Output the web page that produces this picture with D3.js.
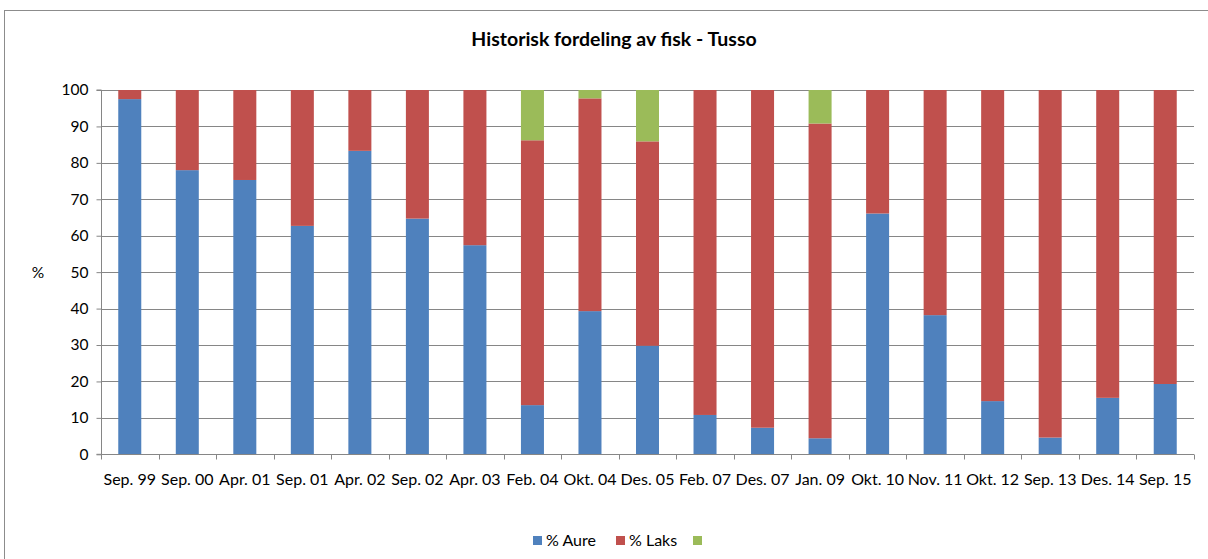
<!DOCTYPE html>
<html><head><meta charset="utf-8">
<script src="https://cdn.jsdelivr.net/npm/d3@7"></script>
<style>body{margin:0;background:#fff}svg{display:block;font-family:Lato,"Liberation Sans",sans-serif}</style>
</head><body>
<svg id="c" width="1208" height="559"></svg>
<script>
const categories = ["Sep. 99","Sep. 00","Apr. 01","Sep. 01","Apr. 02","Sep. 02","Apr. 03","Feb. 04","Okt. 04","Des. 05","Feb. 07","Des. 07","Jan. 09","Okt. 10","Nov. 11","Okt. 12","Sep. 13","Des. 14","Sep. 15"];
const aure = [97.5,78.0,75.3,62.7,83.3,64.7,57.4,13.5,39.3,29.8,10.8,7.3,4.4,66.1,38.2,14.6,4.6,15.5,19.3];
const laks = [2.5,22.0,24.7,37.3,16.7,35.3,42.6,72.7,58.4,56.1,89.2,92.7,86.4,33.9,61.8,85.4,95.4,84.5,80.7];
const other = [0,0,0,0,0,0,0,13.8,2.3,14.1,0,0,9.2,0,0,0,0,0,0];
const seriesNames = ["% Aure","% Laks",""];
const colors = ["#4F81BD","#C0504D","#9BBB59"];
const yTicks = [0,10,20,30,40,50,60,70,80,90,100];

const svg = d3.select("#c");
svg.append("rect").attr("x",4.5).attr("y",10.5).attr("width",1220).attr("height",600)
  .attr("fill","#fff").attr("stroke","#8c8c8c").attr("stroke-width",1);

const L=101, R=1194, T=90, B=454.3;
const x = d3.scaleBand().domain(categories).range([L,R]).paddingInner(0.6).paddingOuter(0.3);
const y = d3.scaleLinear().domain([0,100]).range([B,T]);

// gridlines
svg.append("g").selectAll("line").data(yTicks.filter(d=>d>0)).join("line")
  .attr("x1",L).attr("x2",R).attr("y1",d=>Math.round(y(d))+0.5).attr("y2",d=>Math.round(y(d))+0.5)
  .attr("stroke","#868686").attr("stroke-width",1);

const data = categories.map((c,i)=>({cat:c, s0:aure[i], s1:laks[i], s2:other[i]}));
const stack = d3.stack().keys(["s0","s1","s2"])(data);
svg.append("g").selectAll("g").data(stack).join("g").attr("fill",(d,i)=>colors[i])
  .selectAll("rect").data(d=>d).join("rect")
  .attr("x",d=>x(d.data.cat)).attr("width",x.bandwidth())
  .attr("y",d=>y(d[1])).attr("height",d=>Math.max(0,y(d[0])-y(d[1])));

// y axis
const ya = svg.append("g").attr("transform",`translate(${L+0.5},0)`)
  .call(d3.axisLeft(y).tickValues(yTicks).tickSize(5).tickPadding(8));
ya.selectAll("line,path").attr("stroke","#868686");
ya.select(".domain").attr("d",`M-5,${y(100)}H0V${B}H-5`);
ya.selectAll("text").attr("font-size",15.5).attr("fill","#000").style("font-family","Lato,sans-serif");

// x axis
const xa = svg.append("g").attr("transform",`translate(0,${Math.round(B)+0.5})`);
xa.append("line").attr("x1",L).attr("x2",R).attr("stroke","#868686");
const bounds = d3.range(categories.length+1).map(i=>L+i*x.step());
xa.selectAll("line.t").data(bounds).join("line").attr("class","t")
  .attr("x1",d=>Math.round(d)+0.5).attr("x2",d=>Math.round(d)+0.5).attr("y1",0).attr("y2",5).attr("stroke","#868686");
xa.selectAll("text").data(categories).join("text")
  .attr("x",d=>x(d)+x.bandwidth()/2).attr("y",30.5).attr("text-anchor","middle")
  .attr("font-size",16).attr("fill","#000").text(d=>d);

svg.append("text").attr("x",38).attr("y",278).attr("text-anchor","middle").attr("font-size",15.5).text("%");

svg.append("text").attr("x",614).attr("y",46).attr("text-anchor","middle")
  .attr("font-size",19.5).attr("font-weight","bold").text("Historisk fordeling av fisk - Tusso");

// legend
const leg = [{n:seriesNames[0],c:colors[0],x:533},{n:seriesNames[1],c:colors[1],x:616},{n:seriesNames[2],c:colors[2],x:693}];
const lg = svg.append("g").selectAll("g").data(leg).join("g");
lg.append("rect").attr("x",d=>d.x).attr("y",536).attr("width",9).attr("height",9).attr("fill",d=>d.c);
lg.append("text").attr("x",d=>d.x+13).attr("y",546).attr("font-size",16).text(d=>d.n);
</script>
</body></html>
